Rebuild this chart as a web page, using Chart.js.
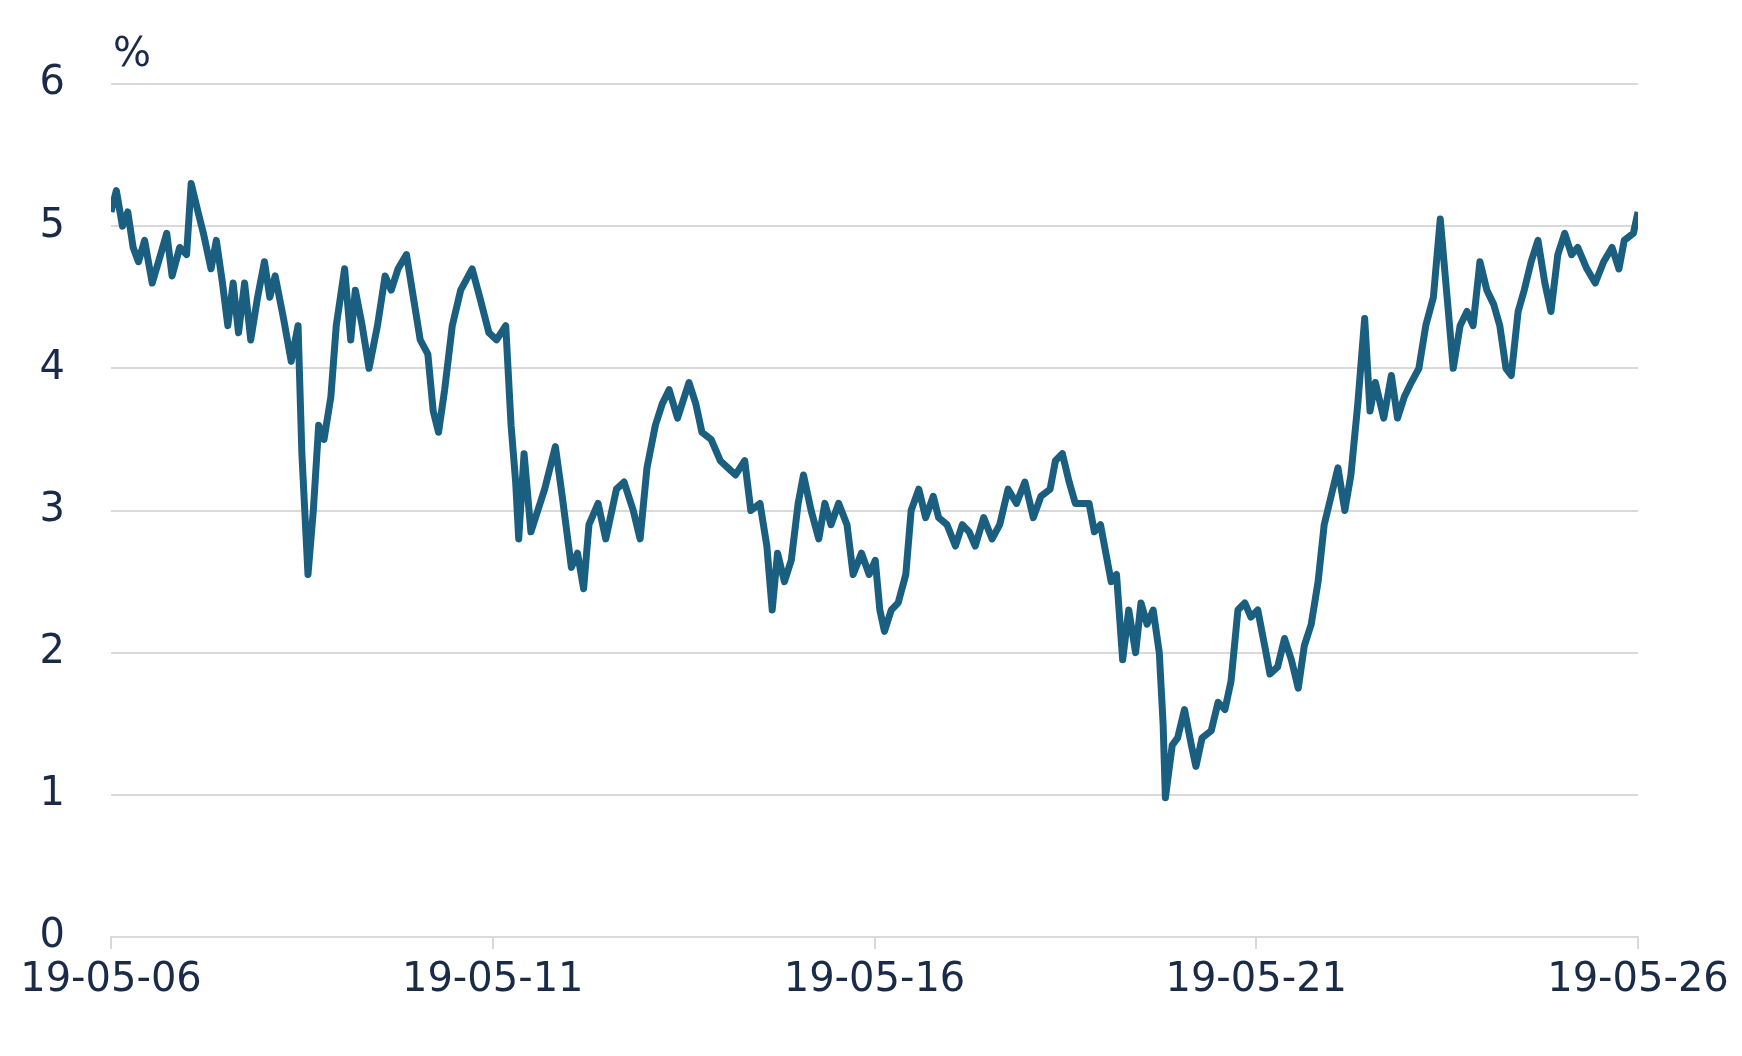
<!DOCTYPE html><html><head><meta charset="utf-8">
<script src="https://cdn.jsdelivr.net/npm/chart.js@4/dist/chart.umd.min.js"></script>
<style>html,body{margin:0;background:#fff}#w{width:1742px;height:1056px}</style></head><body><div id="w"><canvas id="c"></canvas></div>
<script>
const xTickLabels=["19-05-06","19-05-11","19-05-16","19-05-21","19-05-26"];
const yTicks=[0,1,2,3,4,5,6];
const years=[2006.38,2006.45,2006.53,2006.60,2006.67,2006.74,2006.82,2006.92,2007.03,2007.11,2007.18,2007.28,2007.37,2007.43,2007.52,2007.59,2007.69,2007.76,2007.84,2007.91,2007.98,2008.05,2008.13,2008.21,2008.30,2008.39,2008.46,2008.53,2008.64,2008.74,2008.83,2008.88,2008.96,2009.03,2009.10,2009.17,2009.26,2009.33,2009.44,2009.52,2009.58,2009.67,2009.76,2009.87,2009.97,2010.05,2010.14,2010.25,2010.34,2010.43,2010.53,2010.60,2010.67,2010.75,2010.85,2010.96,2011.11,2011.21,2011.33,2011.43,2011.55,2011.62,2011.68,2011.72,2011.79,2011.88,2011.97,2012.06,2012.20,2012.29,2012.41,2012.49,2012.57,2012.64,2012.76,2012.86,2013.00,2013.10,2013.22,2013.31,2013.40,2013.51,2013.60,2013.69,2013.80,2013.95,2014.04,2014.12,2014.24,2014.36,2014.46,2014.56,2014.68,2014.76,2014.88,2014.97,2015.04,2015.11,2015.20,2015.29,2015.38,2015.45,2015.55,2015.65,2015.73,2015.81,2015.91,2016.02,2016.10,2016.21,2016.31,2016.39,2016.45,2016.51,2016.60,2016.69,2016.79,2016.86,2016.96,2017.05,2017.15,2017.22,2017.33,2017.44,2017.53,2017.62,2017.70,2017.81,2017.92,2018.02,2018.13,2018.24,2018.35,2018.46,2018.56,2018.68,2018.75,2018.84,2018.93,2019.01,2019.12,2019.19,2019.26,2019.34,2019.41,2019.48,2019.55,2019.63,2019.71,2019.80,2019.87,2019.95,2020.03,2020.11,2020.16,2020.19,2020.28,2020.35,2020.44,2020.53,2020.59,2020.67,2020.79,2020.88,2020.97,2021.05,2021.14,2021.23,2021.31,2021.40,2021.49,2021.56,2021.66,2021.75,2021.84,2021.93,2022.01,2022.10,2022.19,2022.27,2022.36,2022.45,2022.54,2022.62,2022.71,2022.80,2022.87,2022.94,2023.05,2023.15,2023.23,2023.32,2023.41,2023.51,2023.60,2023.70,2023.79,2023.88,2023.96,2024.05,2024.14,2024.22,2024.31,2024.40,2024.49,2024.57,2024.65,2024.72,2024.81,2024.89,2024.98,2025.07,2025.16,2025.24,2025.33,2025.42,2025.51,2025.59,2025.71,2025.82,2025.93,2026.04,2026.13,2026.20,2026.32,2026.38];
const values=[5.1,5.25,5.0,5.1,4.85,4.75,4.9,4.6,4.8,4.95,4.65,4.85,4.8,5.3,5.1,4.95,4.7,4.9,4.6,4.3,4.6,4.25,4.6,4.2,4.5,4.75,4.5,4.65,4.35,4.05,4.3,3.4,2.55,3.0,3.6,3.5,3.8,4.3,4.7,4.2,4.55,4.3,4.0,4.3,4.65,4.55,4.7,4.8,4.5,4.2,4.1,3.7,3.55,3.85,4.3,4.55,4.7,4.5,4.25,4.2,4.3,3.6,3.2,2.8,3.4,2.85,3.0,3.15,3.45,3.1,2.6,2.7,2.45,2.9,3.05,2.8,3.15,3.2,3.0,2.8,3.3,3.6,3.75,3.85,3.65,3.9,3.75,3.55,3.5,3.35,3.3,3.25,3.35,3.0,3.05,2.75,2.3,2.7,2.5,2.65,3.05,3.25,3.0,2.8,3.05,2.9,3.05,2.9,2.55,2.7,2.55,2.65,2.3,2.15,2.3,2.35,2.55,3.0,3.15,2.95,3.1,2.95,2.9,2.75,2.9,2.85,2.75,2.95,2.8,2.9,3.15,3.05,3.2,2.95,3.1,3.15,3.35,3.4,3.2,3.05,3.05,3.05,2.85,2.9,2.7,2.5,2.55,1.95,2.3,2.0,2.35,2.2,2.3,2.0,1.5,0.98,1.35,1.4,1.6,1.35,1.2,1.4,1.45,1.65,1.6,1.8,2.3,2.35,2.25,2.3,2.05,1.85,1.9,2.1,1.95,1.75,2.05,2.2,2.5,2.9,3.1,3.3,3.0,3.25,3.75,4.35,3.7,3.9,3.65,3.95,3.65,3.8,3.9,4.0,4.3,4.5,5.05,4.5,4.0,4.3,4.4,4.3,4.75,4.55,4.45,4.3,4.0,3.95,4.4,4.55,4.75,4.9,4.6,4.4,4.8,4.95,4.8,4.85,4.7,4.6,4.75,4.85,4.7,4.9,4.95,5.1];
const pts=values.map((v,i)=>({x:years[i],y:v}));
const startYear=2006.38, endYear=2026.38;
const tickYears=xTickLabels.map((_,i)=>startYear+i*5);
const txt='#1a2b48';
const F='DejaVu Sans';
new Chart(document.getElementById('c'),{type:'line',
data:{datasets:[{data:pts,borderColor:'#1a5f80',borderWidth:7,pointRadius:0,tension:0,borderJoinStyle:'round'}]},
options:{responsive:true,maintainAspectRatio:false,animation:false,
layout:{padding:{left:0,right:104,top:84,bottom:0}},
plugins:{legend:{display:false},tooltip:{enabled:false}},
scales:{
x:{type:'linear',min:startYear,max:endYear,
afterBuildTicks:s=>{s.ticks=tickYears.map(v=>({value:v}));},
afterFit:s=>{s.height=119;},
grid:{display:true,drawOnChartArea:false,drawTicks:true,tickLength:12,color:'#d9d9d9',lineWidth:2},
border:{color:'#d9d9d9',width:2},
ticks:{autoSkip:false,maxRotation:0,color:txt,font:{family:F,size:40},padding:8,
callback:(v,i)=>xTickLabels[i]}},
y:{min:0,max:6,afterBuildTicks:s=>{s.ticks=yTicks.map(v=>({value:v}));},
afterFit:s=>{s.width=111;},
grid:{color:'#d9d9d9',lineWidth:2,drawTicks:false},border:{display:false},
ticks:{color:txt,font:{family:F,size:40},padding:46,align:'center'}}}},
plugins:[{id:'pct',afterDraw(c){const g=c.ctx;g.save();g.fillStyle=txt;g.font='40px '+F;g.textBaseline='bottom';g.fillText('%',113,76);g.restore();}}]
});
</script></body></html>
